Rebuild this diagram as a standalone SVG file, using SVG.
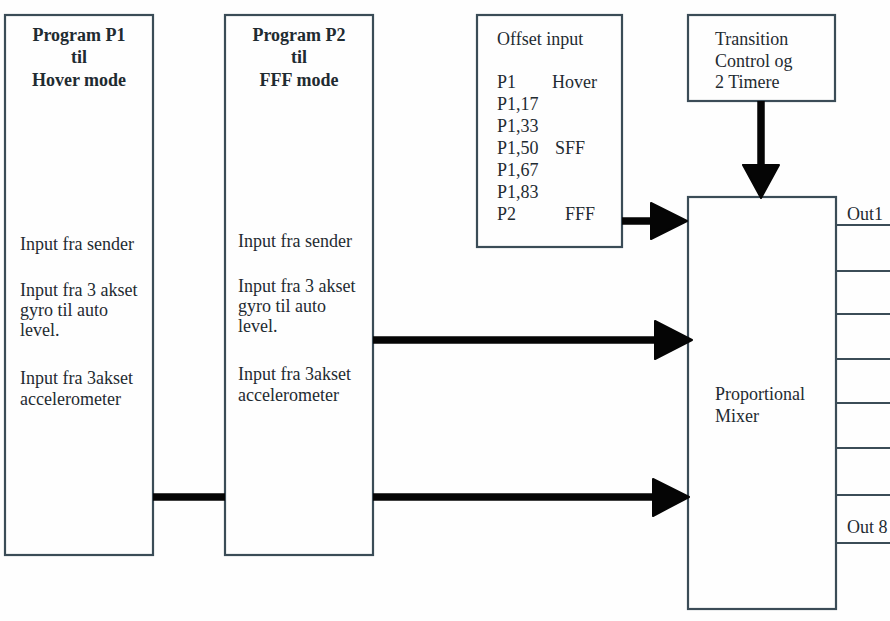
<svg xmlns="http://www.w3.org/2000/svg" width="890" height="621" viewBox="0 0 890 621">
<style>
.box{fill:#fefefe;stroke:#3b4c57;stroke-width:2.2}
.t{font-family:"Liberation Serif","Times New Roman",serif;font-size:18px;fill:#1f2b31}
.b{font-weight:bold;text-anchor:middle}
.shaft{stroke:#050505;stroke-width:7.5;fill:none}
.head{fill:#050505;stroke:#050505;stroke-width:2;stroke-linejoin:round}
.out{stroke:#3b4c57;stroke-width:2.2}
</style>
<rect width="890" height="621" fill="#fefefe"/>
<g id="p1">
<rect class="box" x="5" y="15" width="148" height="540"/>
<text class="t b" x="79" y="41">Program P1</text>
<text class="t b" x="79" y="63">til</text>
<text class="t b" x="79" y="86">Hover mode</text>
<text class="t" x="20" y="250">Input fra sender</text>
<text class="t" x="20" y="296">Input fra 3 akset</text>
<text class="t" x="20" y="316">gyro til auto</text>
<text class="t" x="20" y="336">level.</text>
<text class="t" x="20" y="384">Input fra 3akset</text>
<text class="t" x="20" y="405">accelerometer</text>
</g>
<g id="p2">
<rect class="box" x="225" y="15" width="148" height="540"/>
<text class="t b" x="299" y="41">Program P2</text>
<text class="t b" x="299" y="63">til</text>
<text class="t b" x="299" y="86">FFF mode</text>
<text class="t" x="238" y="247">Input fra sender</text>
<text class="t" x="238" y="292">Input fra 3 akset</text>
<text class="t" x="238" y="312">gyro til auto</text>
<text class="t" x="238" y="332">level.</text>
<text class="t" x="238" y="380">Input fra 3akset</text>
<text class="t" x="238" y="401">accelerometer</text>
</g>
<g id="offset">
<rect class="box" x="477" y="15" width="145" height="232"/>
<text class="t" x="497" y="45">Offset input</text>
<text class="t" x="497" y="88">P1</text>
<text class="t" x="552" y="88">Hover</text>
<text class="t" x="497" y="110">P1,17</text>
<text class="t" x="497" y="132">P1,33</text>
<text class="t" x="497" y="154">P1,50</text>
<text class="t" x="555" y="154">SFF</text>
<text class="t" x="497" y="176">P1,67</text>
<text class="t" x="497" y="198">P1,83</text>
<text class="t" x="497" y="220">P2</text>
<text class="t" x="565" y="220">FFF</text>
</g>
<g id="transition">
<rect class="box" x="688" y="15" width="147" height="86"/>
<text class="t" x="715" y="45">Transition</text>
<text class="t" x="715" y="67">Control og</text>
<text class="t" x="715" y="88">2 Timere</text>
</g>
<g id="mixer">
<rect class="box" x="688" y="197" width="148" height="412"/>
<text class="t" x="715" y="400">Proportional</text>
<text class="t" x="715" y="422">Mixer</text>
</g>
<g id="outputs">
<line class="out" x1="836" y1="225" x2="890" y2="225"/>
<line class="out" x1="836" y1="271" x2="890" y2="271"/>
<line class="out" x1="836" y1="314" x2="890" y2="314"/>
<line class="out" x1="836" y1="359" x2="890" y2="359"/>
<line class="out" x1="836" y1="403" x2="890" y2="403"/>
<line class="out" x1="836" y1="448" x2="890" y2="448"/>
<line class="out" x1="836" y1="495" x2="890" y2="495"/>
<line class="out" x1="836" y1="543" x2="890" y2="543"/>
<text class="t" x="847" y="220">Out1</text>
<text class="t" x="847" y="533">Out 8</text>
</g>
<g id="connectors">
<line class="shaft" x1="153" y1="497" x2="225" y2="497"/>
<line class="shaft" x1="622" y1="221" x2="652" y2="221"/>
<polygon class="head" points="651,203 687,221 651,239"/>
<line class="shaft" x1="373" y1="340" x2="656" y2="340"/>
<polygon class="head" points="655,321 692,340 655,359"/>
<line class="shaft" x1="373" y1="497" x2="654" y2="497"/>
<polygon class="head" points="653,479 689,497 653,516"/>
<line class="shaft" x1="761" y1="101" x2="761" y2="166"/>
<polygon class="head" points="743,165 779,165 761,198"/>
</g>
</svg>
